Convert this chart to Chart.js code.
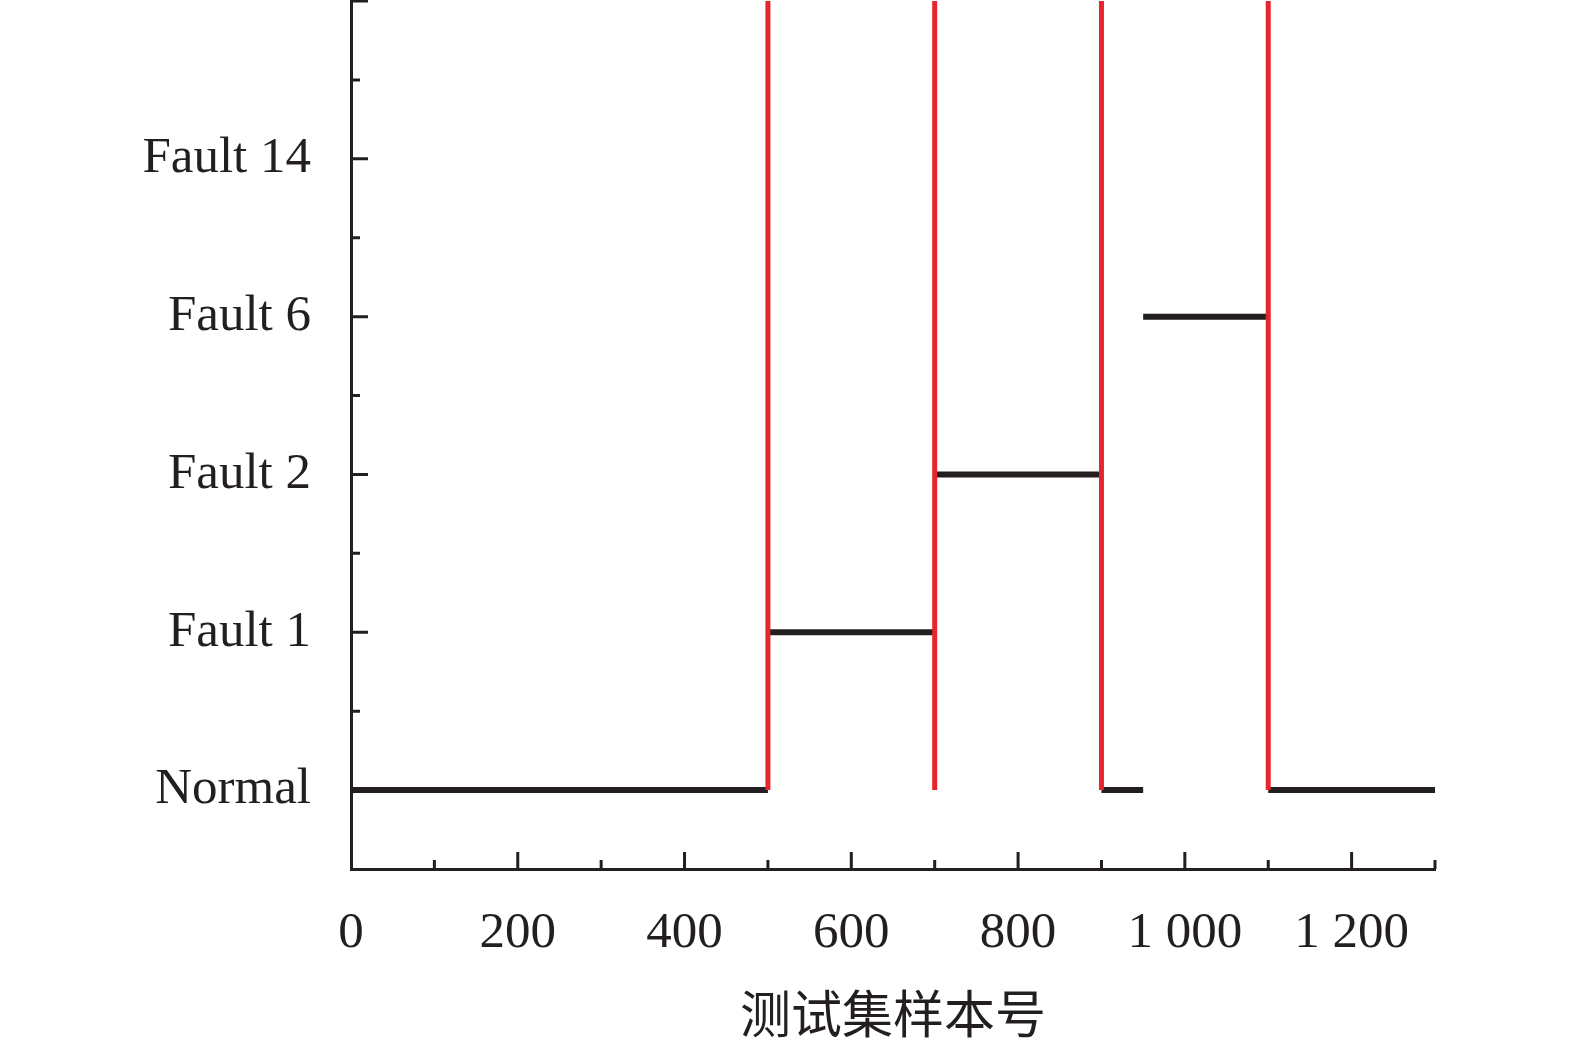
<!DOCTYPE html>
<html>
<head>
<meta charset="utf-8">
<script src="https://cdn.jsdelivr.net/npm/chart.js@4/dist/chart.umd.min.js"></script>
<style>
  html, body { margin: 0; padding: 0; background: #fff; }
  #wrap { width: 1575px; height: 1040px; }
</style>
</head>
<body>
<div id="wrap"><canvas id="faultChart" width="1575" height="1040"></canvas></div>
<script>
// y 轴类别
const categories = ['Normal', 'Fault 1', 'Fault 2', 'Fault 6', 'Fault 14'];

// 识别结果分段（起点、终点、类别）
const segStart = [0, 500, 700, 900, 950, 1100];
const segEnd = [500, 700, 900, 950, 1100, 1300];
const segClass = ['Normal', 'Fault 1', 'Fault 2', 'Normal', 'Fault 6', 'Normal'];

// 红色分界线位置
const boundaries = [500, 700, 900, 1100];

// 坐标轴刻度
const xTickLabels = { 0: '0', 200: '200', 400: '400', 600: '600', 800: '800', 1000: '1 000', 1200: '1 200' };

const ink = '#231f20';
const red = '#e6262d';
const fontFamily = "'Liberation Serif', 'Noto Sans CJK SC', serif";

let datasets = [];
boundaries.forEach(function (b) {
    datasets.push({
        data: [{ x: b, y: 0 }, { x: b, y: categories.length }],
        borderColor: red,
        borderWidth: 5,
        pointRadius: 0
    });
});
for (let i = 0; i < segStart.length; i++) {
    let level = categories.indexOf(segClass[i]);
    datasets.push({
        data: [{ x: segStart[i], y: level }, { x: segEnd[i], y: level }],
        borderColor: ink,
        borderWidth: 6,
        pointRadius: 0
    });
}

// 向内的刻度线
const inwardTicks = {
    id: 'inwardTicks',
    afterDraw(chart) {
        const ctx = chart.ctx;
        const area = chart.chartArea;
        const xs = chart.scales.x;
        const ys = chart.scales.y;
        ctx.save();
        ctx.strokeStyle = ink;
        ctx.lineWidth = 3;
        ctx.beginPath();
        xs.ticks.forEach(function (t) {
            if (t.value === 0) return;
            let px = xs.getPixelForValue(t.value);
            let len = t.value % 200 === 0 ? 17 : 9;
            ctx.moveTo(px, area.bottom);
            ctx.lineTo(px, area.bottom - len);
        });
        ys.ticks.forEach(function (t) {
            if (t.value === ys.min) return;
            let py = ys.getPixelForValue(t.value);
            let len = Number.isInteger(t.value) ? 17 : 9;
            ctx.moveTo(area.left, py);
            ctx.lineTo(area.left + len, py);
        });
        ctx.stroke();
        ctx.restore();
    }
};

const ctx = document.getElementById('faultChart');
const faultChart = new Chart(ctx, {
    type: 'line',
    data: { datasets: datasets },
    plugins: [inwardTicks],
    options: {
        responsive: false,
        animation: false,
        layout: { padding: { left: 0, right: 140, top: 1, bottom: 0 } },
        plugins: { legend: { display: false }, tooltip: { enabled: false } },
        scales: {
            x: {
                type: 'linear',
                min: 0,
                max: 1300,
                afterFit: function (s) {
                    s.height = 171;
                    s.paddingLeft = 0;
                    s.paddingRight = 0;
                },
                grid: { drawOnChartArea: false, drawTicks: false },
                border: { color: ink, width: 3 },
                ticks: {
                    stepSize: 100,
                    autoSkip: false,
                    maxRotation: 0,
                    padding: 34,
                    color: ink,
                    font: { family: fontFamily, size: 51 },
                    callback: function (v) { return xTickLabels[v] !== undefined ? xTickLabels[v] : ''; }
                },
                title: {
                    display: true,
                    text: '测试集样本号',
                    color: ink,
                    padding: { top: 0, bottom: -10 },
                    font: { family: fontFamily, size: 51 }
                }
            },
            y: {
                type: 'linear',
                min: -0.5,
                max: categories.length,
                afterFit: function (s) {
                    s.width = 351;
                    s.paddingTop = 0;
                    s.paddingBottom = 0;
                },
                grid: { drawOnChartArea: false, drawTicks: false },
                border: { color: ink, width: 3 },
                ticks: {
                    stepSize: 0.5,
                    autoSkip: false,
                    padding: 40,
                    color: ink,
                    font: { family: fontFamily, size: 51 },
                    callback: function (v) {
                        return Number.isInteger(v) && categories[v] ? categories[v] : '';
                    }
                }
            }
        }
    }
});
</script>
</body>
</html>
